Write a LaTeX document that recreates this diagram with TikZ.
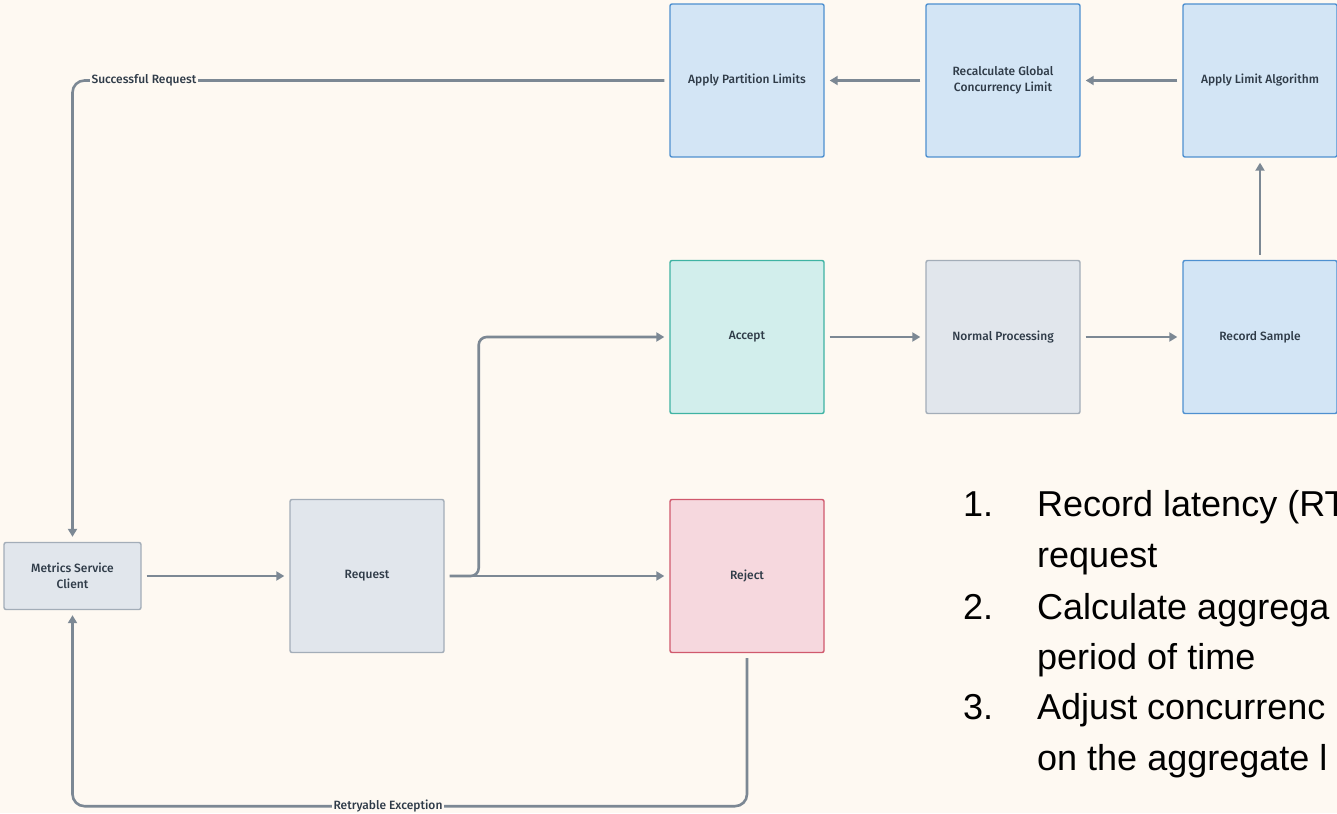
\documentclass[tikz,border=0pt]{standalone}
\usepackage{fontspec}
\setmainfont{Fira Sans}[UprightFont={* Medium}]
\newfontfamily\listfont{Liberation Sans}
\usetikzlibrary{arrows.meta}

\definecolor{paper}{HTML}{FEF9F2}
\definecolor{ink}{HTML}{2F3B48}
\definecolor{wire}{HTML}{7C8894}
\definecolor{blueFill}{HTML}{D3E5F5}
\definecolor{blueLine}{HTML}{4E90D0}
\definecolor{tealFill}{HTML}{D2EEEC}
\definecolor{tealLine}{HTML}{3FB3A3}
\definecolor{redFill}{HTML}{F6D8DE}
\definecolor{redLine}{HTML}{D0596D}
\definecolor{grayFill}{HTML}{E1E6EC}
\definecolor{grayLine}{HTML}{A3ADB8}

\tikzset{
  box/.style={draw, line width=1.4pt, rounded corners=2pt, minimum width=154pt,
    minimum height=153pt, align=center, text=ink, font=\fontsize{12}{16}\selectfont},
  bluebox/.style={box, fill=blueFill, draw=blueLine},
  tealbox/.style={box, fill=tealFill, draw=tealLine},
  redbox/.style={box, fill=redFill, draw=redLine},
  graybox/.style={box, fill=grayFill, draw=grayLine},
  conn/.style={draw=wire, line width=2.6pt, shorten >=5pt, shorten <=5pt,
    -{Triangle[length=8pt,width=9pt]}},
  lbl/.style={fill=paper, text=ink, inner xsep=1.5pt, inner ysep=1pt,
    font=\fontsize{12}{14}\selectfont},
  listnum/.style={anchor=base west, text=black, inner sep=0pt,
    font=\listfont\fontsize{36}{40}\selectfont},
  listtxt/.style={listnum}
}

\begin{document}
\begin{tikzpicture}[x=1pt,y=-1pt]
  \fill[paper] (0,0) rectangle (1337,813);
  \useasboundingbox (0,0) rectangle (1337,813);
  \clip (0,0) rectangle (1337,813);

  % top row: limit update chain
  \node[bluebox] (part) at (747,80.5) {Apply Partition Limits};
  \node[bluebox] (recalc) at (1003,80.5) {Recalculate Global\\Concurrency Limit};
  \node[bluebox] (algo) at (1260,80.5) {Apply Limit Algorithm};

  % middle row: accepted request path
  \node[tealbox] (acc) at (747,337) {Accept};
  \node[graybox] (proc) at (1003,337) {Normal Processing};
  \node[bluebox] (rec) at (1260,337) {Record Sample};

  % bottom row: client and request
  \node[graybox, minimum width=137pt, minimum height=67pt] (cli) at (72.5,576) {Metrics Service\\Client};
  \node[graybox] (req) at (367,576) {Request};
  \node[redbox] (rej) at (747,576) {Reject};

  % connectors
  \draw[conn] (cli.east) -- (req.west);
  \draw[conn] (req.east) -- (rej.west);
  \draw[conn, rounded corners=8pt] (req.east) -- ++(34,0) |- (acc.west);
  \draw[conn] (acc.east) -- (proc.west);
  \draw[conn] (proc.east) -- (rec.west);
  \draw[conn] (rec.north) -- (algo.south);
  \draw[conn] (algo.west) -- (recalc.east);
  \draw[conn] (recalc.west) -- (part.east);
  \draw[conn, rounded corners=12pt] (part.west) -| (cli.north);
  \draw[conn, rounded corners=12pt] (rej.south) -- ++(0,153) -| (cli.south);

  % connector labels
  \node[lbl] (okLbl) at (144,80.5) {Successful Request};
  \node[lbl] (retryLbl) at (388,806) {Retryable Exception};

  % notes on the sampling steps
  \node[listnum] (n1) at (963,516) {1.};
  \node[listtxt] (t1a) at (1037,516) {Record latency (RT};
  \node[listtxt] (t1b) at (1037,567) {request};
  \node[listnum] (n2) at (963,619) {2.};
  \node[listtxt] (t2a) at (1037,619) {Calculate aggrega};
  \node[listtxt] (t2b) at (1037,669) {period of time};
  \node[listnum] (n3) at (963,719) {3.};
  \node[listtxt] (t3a) at (1037,719) {Adjust concurrenc};
  \node[listtxt] (t3b) at (1037,770) {on the aggregate l};
\end{tikzpicture}
\end{document}
